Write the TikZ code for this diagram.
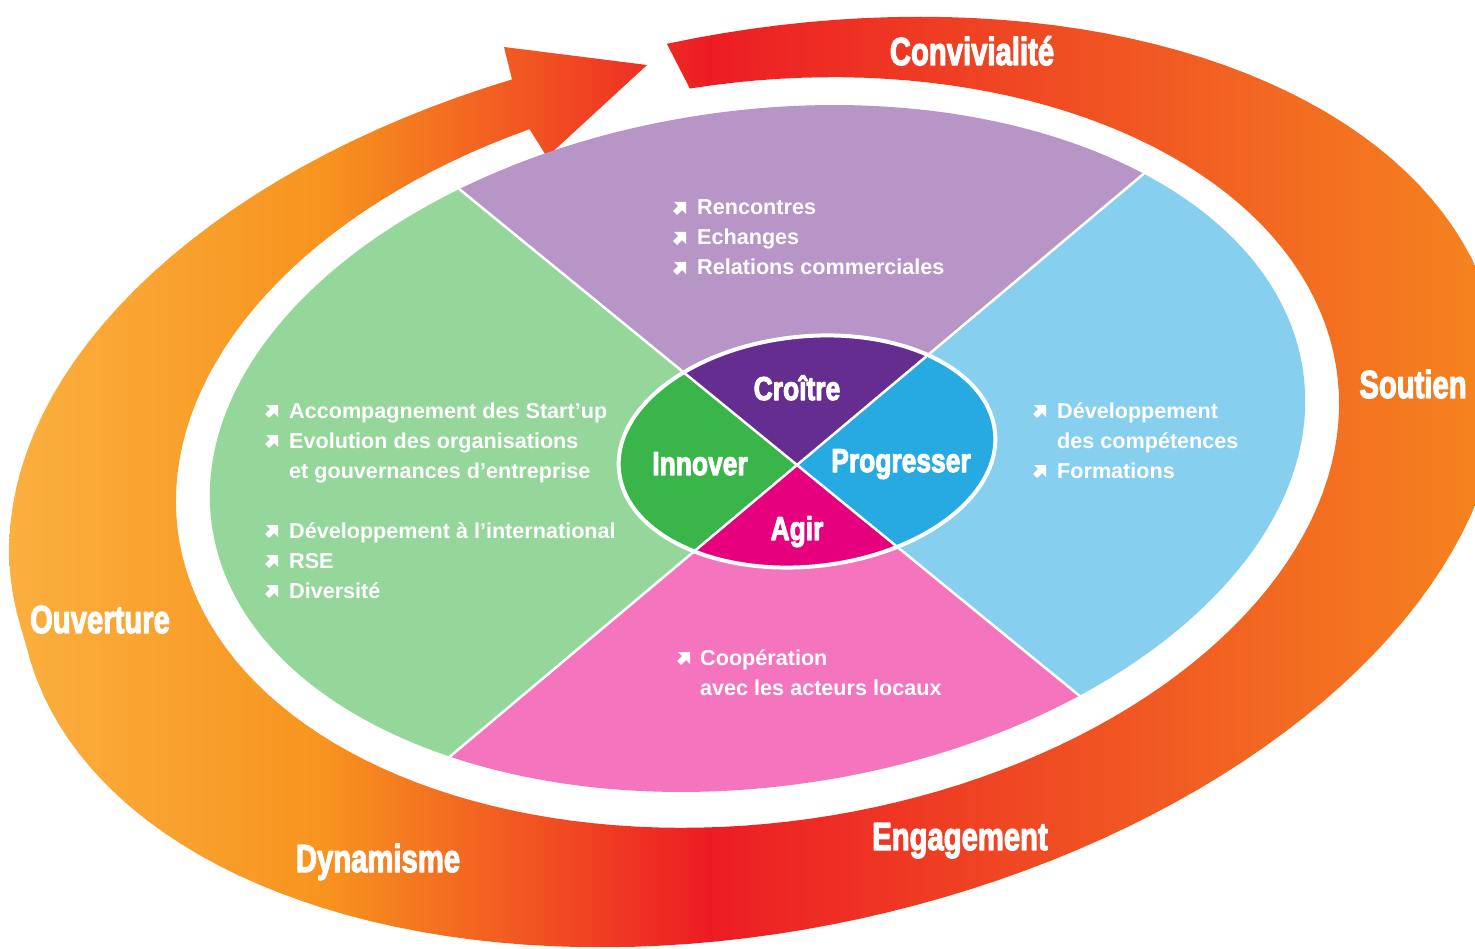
\documentclass[tikz,border=0pt]{standalone}
\usepackage{fontspec}
\setmainfont{Liberation Sans}
\newfontfamily\heavyfont[FakeBold=3.5]{Liberation Sans Bold}
\usepackage{graphicx}
\usetikzlibrary{calc}

\definecolor{ringYellow}{HTML}{FBB040}
\definecolor{ringOrange}{HTML}{F7941E}
\definecolor{ringRed}{HTML}{ED1C24}
\definecolor{ringRedOr}{HTML}{EF4623}
\definecolor{ringTail}{HTML}{F5821F}
\definecolor{lilac}{HTML}{B895C7}
\definecolor{sky}{HTML}{87CFEE}
\definecolor{rose}{HTML}{F475BD}
\definecolor{mint}{HTML}{95D69B}
\definecolor{grape}{HTML}{662D91}
\definecolor{azure}{HTML}{27AAE1}
\definecolor{fuchsia}{HTML}{E6007E}
\definecolor{leaf}{HTML}{39B54A}

\pgfdeclarehorizontalshading{ringshade}{100bp}{color(0bp)=(ringYellow); color(25bp)=(ringYellow);
  color(36bp)=(ringOrange); color(49bp)=(ringRed); color(59bp)=(ringRedOr);
  color(75bp)=(ringTail); color(100bp)=(ringTail)}

\newcommand{\nearr}{\tikz[baseline=0pt]\fill[white] (0pt,4pt) -- (4pt,0pt) -- (9pt,5pt)
  -- (13pt,1pt) -- (13pt,13pt) -- (1pt,13pt) -- (5pt,9pt) -- cycle;}
\newcommand{\ringtext}[1]{\scalebox{0.75}[1]{#1}}
\newcommand{\hubtext}[1]{\scalebox{0.8}[1]{#1}}

\tikzset{
  ringword/.style={text=white, inner sep=0pt, anchor=base, font=\fontsize{39}{39}\selectfont\heavyfont},
  quadword/.style={text=white, inner sep=0pt, anchor=base, font=\fontsize{33}{33}\selectfont\heavyfont},
  itemlist/.style={text=white, inner sep=0pt, anchor=base west, font=\fontsize{21.6}{30}\selectfont\bfseries},
  divider/.style={white, line width=2.5pt},
}

\begin{document}
\begin{tikzpicture}[x=1pt, y=-1pt, line join=round]
  \useasboundingbox (0,0) rectangle (1475,949);
  \fill[white] (0,0) rectangle (1475,949);
  %--- orange ring, ending in the arrow
  \begin{scope}
    \clip plot[domain=0:348, samples=160] ({760+(1+0.04*(\x>270)*sin(2*(\x-270)))*(735.57*cos(90-\x)-93.14*sin(90-\x))},
                                          {482-(1+0.04*(\x>270)*sin(2*(\x-270)))*(156.35*cos(90-\x)+438.21*sin(90-\x))})
      -- (504,47) -- (647,65) -- (547,157)
      -- plot[domain=-252:91.6, samples=160] ({757.5+579.31*cos(\x)-51.49*sin(\x)}, {452.5-81.41*cos(\x)-366.40*sin(\x)})
      -- cycle;
    \shade[shading=ringshade] (0,0) rectangle (1475,949);
  \end{scope}
  %--- dividing lines
  \coordinate (hub) at (797,465);
  \coordinate (nwEnd) at (-3,-188.6);
  \coordinate (seEnd) at (1597,1118.6);
  \coordinate (neEnd) at (1597,-207);
  \coordinate (swEnd) at (-3,1137);
  %--- outer field
  \begin{scope}
    \clip[rotate around={8:(757.5,448.5)}] (757.5,448.5) ellipse [x radius=551, y radius=338];
    \fill[lilac] (hub) -- (nwEnd) -- (neEnd) -- cycle;
    \fill[sky] (hub) -- (neEnd) -- (seEnd) -- cycle;
    \fill[rose] (hub) -- (seEnd) -- (swEnd) -- cycle;
    \fill[mint] (hub) -- (swEnd) -- (nwEnd) -- cycle;
  \end{scope}
  %--- hub
  \begin{scope}
    \clip[rotate around={6:(807,451.5)}] (807,451.5) ellipse [x radius=189, y radius=115];
    \fill[grape] (hub) -- (nwEnd) -- (neEnd) -- cycle;
    \fill[azure] (hub) -- (neEnd) -- (seEnd) -- cycle;
    \fill[fuchsia] (hub) -- (seEnd) -- (swEnd) -- cycle;
    \fill[leaf] (hub) -- (swEnd) -- (nwEnd) -- cycle;
  \end{scope}
  \begin{scope}
    \clip[rotate around={8:(757.5,448.5)}] (757.5,448.5) ellipse [x radius=551, y radius=338];
    \draw[divider] (nwEnd) -- (seEnd) (neEnd) -- (swEnd);
  \end{scope}
  \draw[white, line width=4pt, rotate around={6:(807,451.5)}] (807,451.5) ellipse [x radius=189, y radius=115];
  %--- ring words
  \node[ringword] (convivialite) at (972,65) {\ringtext{Convivialité}};
  \node[ringword] (soutien) at (1413,398) {\ringtext{Soutien}};
  \node[ringword] (engagement) at (960,850) {\ringtext{Engagement}};
  \node[ringword] (dynamisme) at (378,872) {\ringtext{Dynamisme}};
  \node[ringword] (ouverture) at (100,633) {\ringtext{Ouverture}};
  %--- hub words
  \node[quadword] (croitre) at (797,400) {\hubtext{Croître}};
  \node[quadword] (innover) at (700,475) {\hubtext{Innover}};
  \node[quadword] (progresser) at (901,472) {\hubtext{Progresser}};
  \node[quadword] (agir) at (797,540) {\hubtext{Agir}};
  %--- lists
  \node[itemlist] (croitreList) at (673,215) {\begin{tabular}[t]{@{}l@{\hspace{11pt}}l@{}}
    \nearr & Rencontres\\
    \nearr & Echanges\\
    \nearr & Relations commerciales
  \end{tabular}};
  \node[itemlist] (innoverList) at (265,418) {\begin{tabular}[t]{@{}l@{\hspace{11pt}}l@{}}
    \nearr & Accompagnement des Start’up\\
    \nearr & Evolution des organisations\\
    & et gouvernances d’entreprise\\
    & \\
    \nearr & Développement à l’international\\
    \nearr & RSE\\
    \nearr & Diversité
  \end{tabular}};
  \node[itemlist] (progresserList) at (1033,418) {\begin{tabular}[t]{@{}l@{\hspace{11pt}}l@{}}
    \nearr & Développement\\
    & des compétences\\
    \nearr & Formations
  \end{tabular}};
  \node[itemlist] (agirList) at (677,665) {\begin{tabular}[t]{@{}l@{\hspace{10pt}}l@{}}
    \nearr & Coopération\\
    & avec les acteurs locaux
  \end{tabular}};
\end{tikzpicture}
\end{document}
